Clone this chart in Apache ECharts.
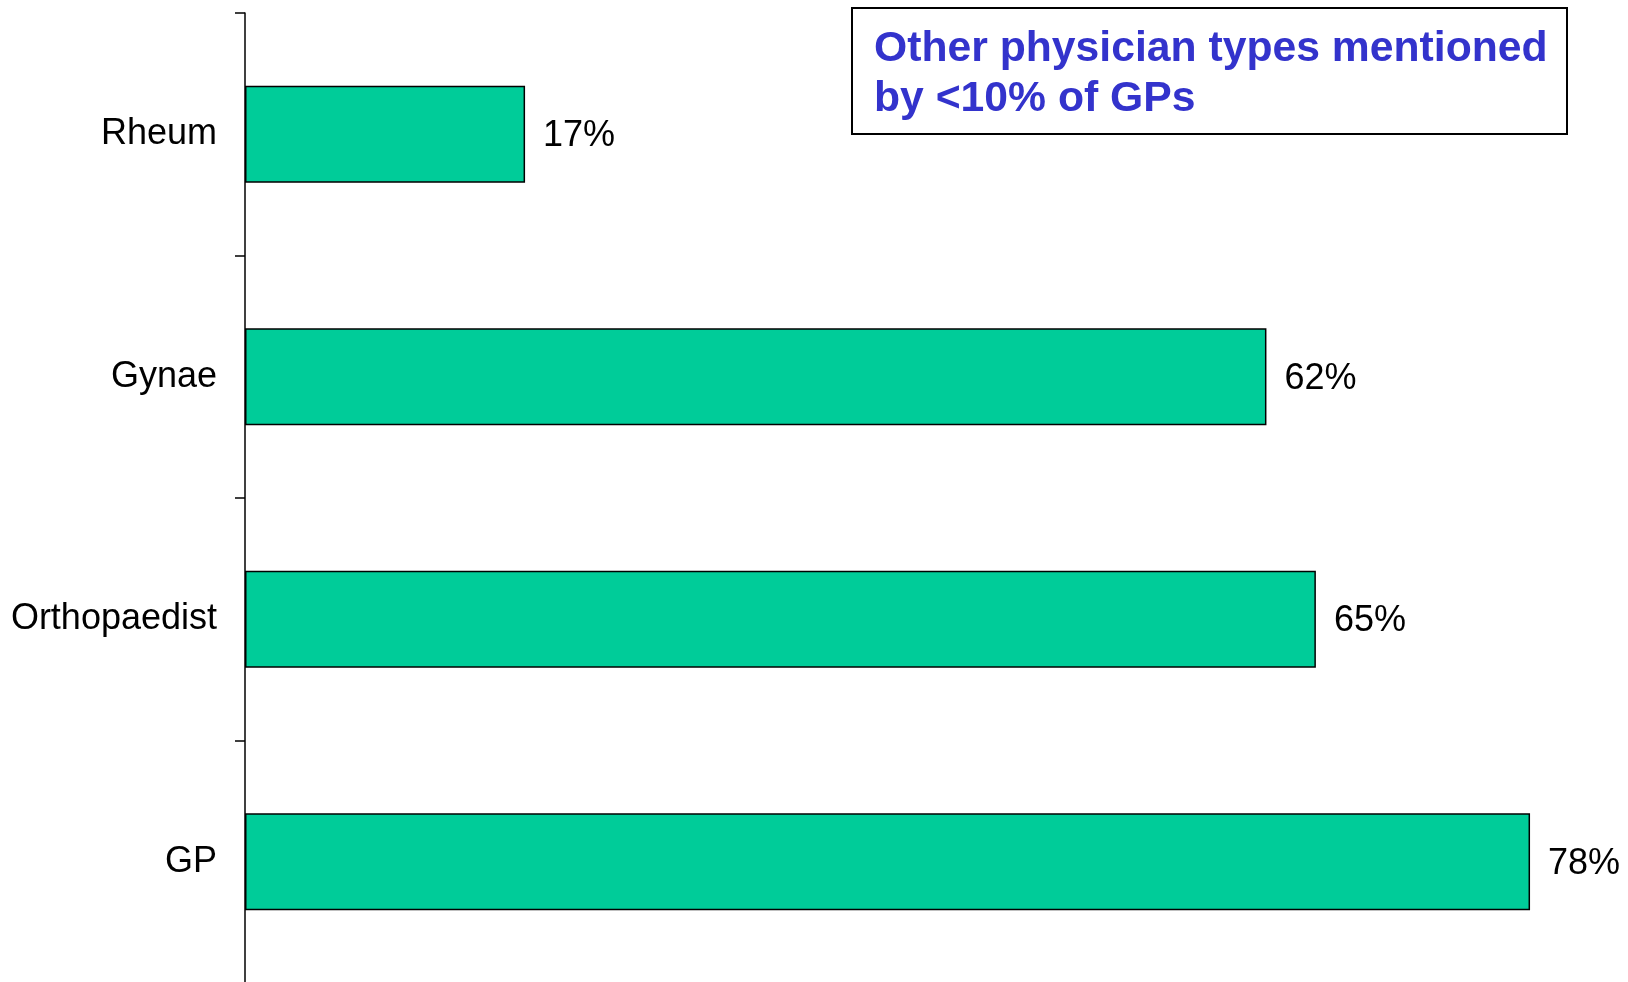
<!DOCTYPE html>
<html>
<head>
<meta charset="utf-8">
<script src="https://cdn.jsdelivr.net/npm/echarts@6/dist/echarts.min.js"></script>
<style>
  html, body { margin: 0; padding: 0; background: #fff; }
  #chart { width: 1628px; height: 982px; }
</style>
</head>
<body>
<div id="chart"></div>
<script>
// categories bottom -> top
var categories = ['GP', 'Orthopaedist', 'Gynae', 'Rheum'];
var values = [78, 65, 62, 17];
var noteText = 'Other physician types mentioned\nby <10% of GPs';

var chart = echarts.init(document.getElementById('chart'));

var option = {
    backgroundColor: '#fff',
    animation: false,
    title: {
        text: noteText,
        left: 852,
        top: 8,
        padding: [16, 20, 10, 22],
        borderWidth: 2,
        borderColor: '#000',
        textStyle: {
            fontFamily: 'Liberation Sans, Arial, sans-serif',
            fontSize: 42.7,
            fontWeight: 'bold',
            lineHeight: 50,
            color: '#3333cc'
        }
    },
    grid: {
        left: 245,
        top: 13,
        width: 1318,
        height: 970,
        outerBoundsMode: 'none'
    },
    xAxis: {
        type: 'value',
        min: 0,
        max: 80,
        show: false
    },
    yAxis: {
        type: 'category',
        data: categories,
        axisLine: { lineStyle: { color: '#000', width: 1.5 } },
        axisTick: { show: true, length: 10, lineStyle: { color: '#000', width: 1.5 } },
        axisLabel: {
            margin: 28,
            fontFamily: 'Liberation Sans, Arial, sans-serif',
            fontSize: 36,
            color: '#000'
        },
        splitLine: { show: false }
    },
    series: [{
        type: 'bar',
        data: values,
        barWidth: '40%',
        itemStyle: {
            color: '#00cc99',
            borderColor: '#000',
            borderWidth: 1.5
        },
        label: {
            show: true,
            position: 'right',
            distance: 18,
            offset: [0, 2],
            formatter: '{c}%',
            fontFamily: 'Liberation Sans, Arial, sans-serif',
            fontSize: 36,
            color: '#000'
        }
    }]
};

chart.setOption(option);
</script>
</body>
</html>
